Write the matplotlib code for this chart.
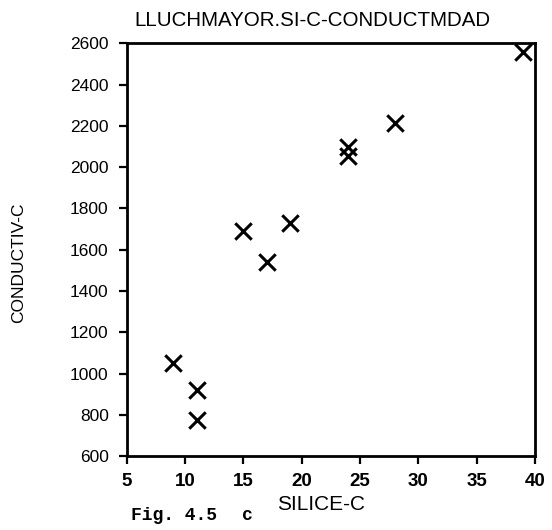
import matplotlib
matplotlib.use("Agg")
import matplotlib.pyplot as plt

silice = [9, 11, 11, 15, 17, 19, 24, 24, 28, 39]
conductiv = [1050, 920, 775, 1690, 1540, 1730, 2100, 2055, 2215, 2560]
x_ticks = [5, 10, 15, 20, 25, 30, 35, 40]
y_ticks = [600, 800, 1000, 1200, 1400, 1600, 1800, 2000, 2200, 2400, 2600]

plt.rcParams['font.family'] = ['Liberation Sans', 'DejaVu Sans']

fig = plt.figure(figsize=(5.52, 5.30), dpi=100)
ax = fig.add_axes([0.2295, 0.1396, 0.969 - 0.2295, 0.918 - 0.1396])
ax.scatter(silice, conductiv, marker='x', s=140, c='black', linewidths=2.2, clip_on=False)
ax.set_xlim(5, 40)
ax.set_ylim(600, 2600)
ax.set_xticks(x_ticks)
ax.set_yticks(y_ticks)
ax.tick_params(axis='both', direction='out', length=6, width=1.6, color='black')
ax.tick_params(axis='y', labelsize=12.5, pad=7)
ax.tick_params(axis='x', labelsize=13.5, pad=6)
for lab in ax.get_xticklabels():
    lab.set_fontweight('bold')
for s in ax.spines.values():
    s.set_linewidth(2)
    s.set_color('black')

fig.text(312/552, 1 - 20/530, "LLUCHMAYOR.SI-C-CONDUCTMDAD", ha='center', va='center', fontsize=14.8)
fig.text(321/552, 1 - 505/530, "SILICE-C", ha='center', va='center', fontsize=15)
fig.text(19/552, 1 - 263/530, "CONDUCTIV-C", ha='center', va='center', rotation=90, fontsize=12.5)
fig.text(131/552, 1 - 515/530, "Fig. 4.5", ha='left', va='center', fontsize=13,
         family='Liberation Mono', fontweight='bold')
fig.text(247/552, 1 - 515/530, "c", ha='center', va='center', fontsize=13,
         family='Liberation Mono', fontweight='bold')

fig.savefig("out.png", dpi=100)
